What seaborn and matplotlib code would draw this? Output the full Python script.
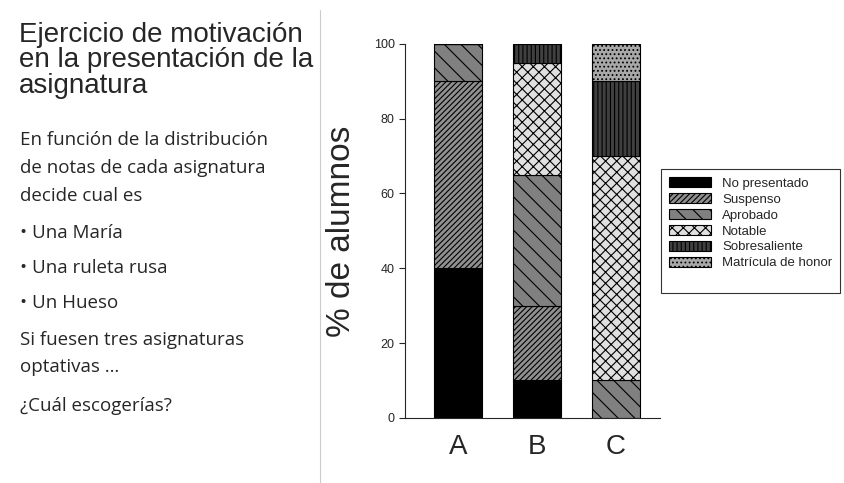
import matplotlib
matplotlib.use("Agg")
import matplotlib.pyplot as plt
import seaborn as sns
import numpy as np

sns.set_style("ticks")
plt.rcParams['font.family'] = ['Liberation Sans', 'DejaVu Sans']
plt.rcParams['hatch.linewidth'] = 0.8

categories = ["A", "B", "C"]
series = ["No presentado", "Suspenso", "Aprobado", "Notable", "Sobresaliente", "Matrícula de honor"]
no_presentado = [40, 10, 0]
suspenso = [50, 20, 0]
aprobado = [10, 35, 10]
notable = [0, 30, 60]
sobresaliente = [0, 5, 20]
matricula = [0, 0, 10]
values = [no_presentado, suspenso, aprobado, notable, sobresaliente, matricula]
colors = ["#000000", "#909090", "#808080", "#e0e0e0", "#404040", "#a8a8a8"]
hatches = [None, "//////", "\\\\", "xxx", "||||", "...."]

fig = plt.figure(figsize=(8.44, 4.83), dpi=100)
ax = fig.add_axes([0.48, 0.135, 0.302, 0.774])
bottom = np.zeros(3)
for name, vals, c, h in zip(series, values, colors, hatches):
    sns.barplot(x=categories, y=vals, ax=ax, color=c, bottom=bottom, width=0.61,
                hatch=h, edgecolor="black", linewidth=0.8, label=name, saturation=1)
    bottom = bottom + np.array(vals)

ax.set_ylim(0, 100)
ax.set_xlim(-0.67, 2.56)
ax.set_yticks([0, 20, 40, 60, 80, 100])
ax.tick_params(axis='y', labelsize=9, length=4)
ax.tick_params(axis='x', labelsize=20, length=0, pad=12)
ax.set_ylabel("% de alumnos", fontsize=24, labelpad=12)
for s in ["top", "right"]:
    ax.spines[s].set_visible(False)
handles, labels = ax.get_legend_handles_labels()
blank = plt.Rectangle((0, 0), 1, 1, fill=False, edgecolor="none", visible=False)
leg = ax.legend(handles + [blank], labels + [""], loc="upper left", bbox_to_anchor=(1.005, 0.665),
          fontsize=9.5, frameon=True, fancybox=False, edgecolor="black", handlelength=3.2,
          handleheight=0.8, labelspacing=0.25, borderpad=0.6, borderaxespad=0)
leg.get_frame().set_linewidth(0.8)

fig.add_artist(plt.Line2D([0.379, 0.379], [0, 0.98], color="#cccccc", lw=0.8))
fig.text(0.022, 0.955, "Ejercicio de motivación\nen la presentación de la\nasignatura", fontsize=20,
         va="top", ha="left", linespacing=0.98)
body = [("En función de la distribución", 140), ("de notas de cada asignatura", 168),
        ("decide cual es", 196), ("• Una María", 233), ("• Una ruleta rusa", 268),
        ("• Un Hueso", 303), ("Si fuesen tres asignaturas", 340), ("optativas …", 367),
        ("¿Cuál escogerías?", 406)]
for t, y in body:
    fig.text(0.024, 1 - y / 483, t, fontsize=13.5, va="center", ha="left",
             family=["Open Sans", "DejaVu Sans"])
fig.savefig("out.png", dpi=100)
